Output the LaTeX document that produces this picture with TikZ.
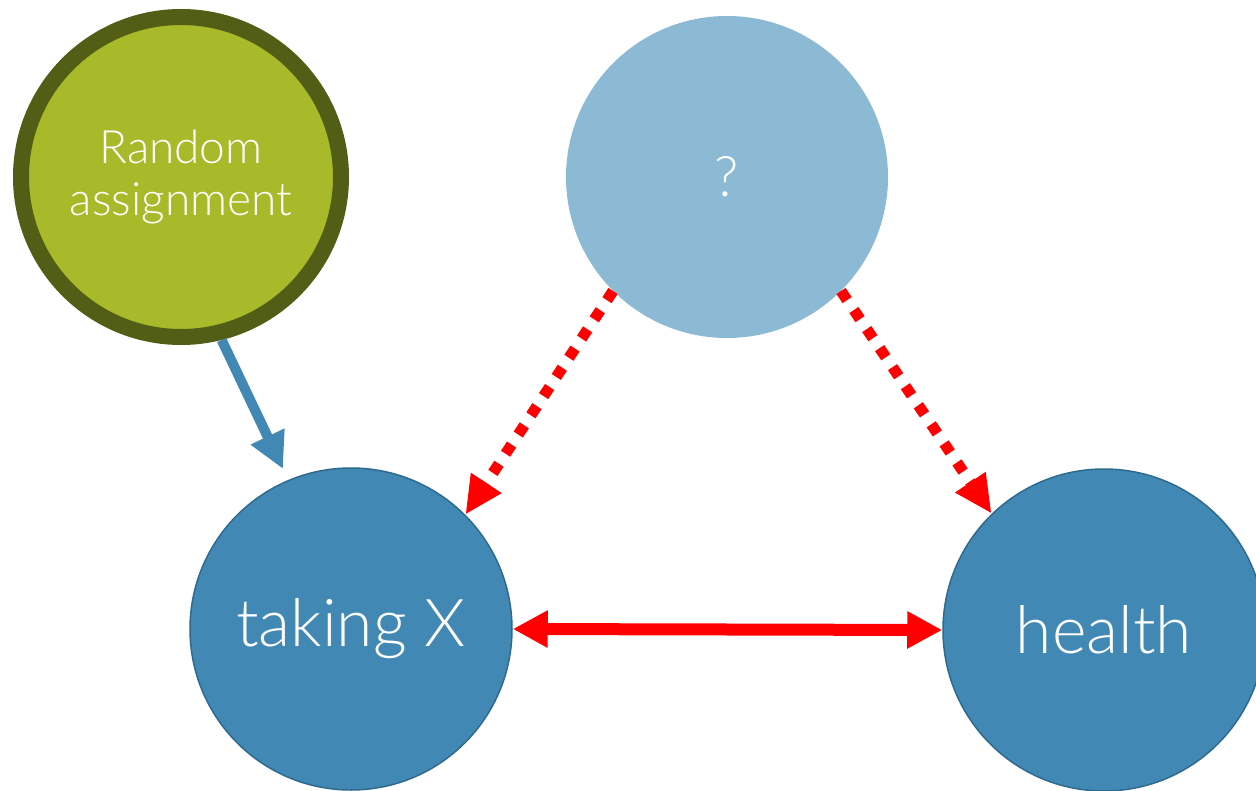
\documentclass[tikz,border=0pt]{standalone}
\usepackage{fontspec}
\setmainfont{Lato}[UprightFont=* Light]
\usepackage{tikz}
\usetikzlibrary{arrows.meta,positioning}
\definecolor{olivefill}{HTML}{A8B929}
\definecolor{oliveedge}{HTML}{525E16}
\definecolor{skyfill}{HTML}{8CB9D3}
\definecolor{steel}{HTML}{4189B4}
\definecolor{steeledge}{HTML}{2F6A8E}
\definecolor{alarm}{HTML}{FF0000}
\tikzset{bubble/.style={circle,inner sep=0pt,minimum size=322pt,text=white,align=center}, randbubble/.style={bubble,minimum size=320pt,fill=olivefill,draw=oliveedge,line width=16pt,font=\fontsize{46}{52}\selectfont}, varbubble/.style={bubble,fill=steel,draw=steeledge,line width=1.5pt,font=\fontsize{66}{72}\selectfont}, hidbubble/.style={bubble,fill=skyfill,font=\fontsize{56}{60}\selectfont}, causeline/.style={steel,line width=10pt,-{Triangle[length=36pt,width=35pt]}}, confline/.style={alarm,line width=11pt,dash pattern=on 11pt off 12pt,-{Triangle[length=38pt,width=34pt]}}, assocline/.style={alarm,line width=12pt,{Triangle[length=35pt,width=35pt]}-{Triangle[length=35pt,width=35pt]}}}

\begin{document}
\begin{tikzpicture}[x=1pt,y=-1pt]
\useasboundingbox (0,0) rectangle (1256,791);
\node[randbubble] (rand) at (181,177) {Random\\assignment};
\node[hidbubble] (hid) at (727,177) {?};
\node[varbubble] (takex) at (351,629) {taking X};
\node[varbubble] (health) at (1104,630) {health};
\coordinate (takexin) at (283,469);
\draw[causeline] (rand.-76) -- (takexin);
\draw[confline] (hid.-135) -- (takex.45);
\draw[confline] (hid.-45) -- (health.134);
\draw[assocline] (takex.east) -- (health.west);
\end{tikzpicture}
\end{document}
